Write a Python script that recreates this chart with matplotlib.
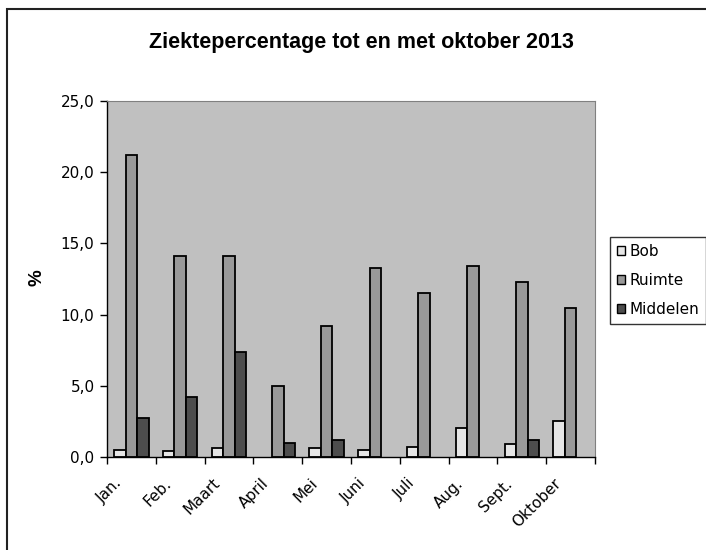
import matplotlib
matplotlib.use("Agg")
import matplotlib.pyplot as plt
import matplotlib.transforms as mtransforms
import numpy as np
from matplotlib.patches import Rectangle

months = ["Jan.", "Feb.", "Maart", "April", "Mei", "Juni", "Juli", "Aug.", "Sept.", "Oktober"]
bob = [0.5, 0.4, 0.6, 0.0, 0.6, 0.5, 0.7, 2.05, 0.9, 2.55]
ruimte = [21.2, 14.1, 14.1, 5.0, 9.2, 13.3, 11.55, 13.4, 12.3, 10.45]
middelen = [2.75, 4.2, 7.4, 1.0, 1.2, 0.0, 0.0, 0.0, 1.17, 0.0]
series_names = ["Bob", "Ruimte", "Middelen"]
yticks = [0, 5, 10, 15, 20, 25]

plt.rcParams['font.family'] = ['DejaVu Sans']

fig = plt.figure(figsize=(7.06, 5.5), dpi=100)
fig.patch.set_facecolor('white')
fig.patches.append(Rectangle((7/706, -0.1), 1.1, 1 - 9/550 + 0.1, transform=fig.transFigure,
                             fill=False, edgecolor='#222222', linewidth=1.5))

ax = fig.add_axes([107/706, 1 - 457/550, (595 - 107)/706, (457 - 101)/550])
ax.set_facecolor('#C0C0C0')

x = np.arange(len(months))
w = 0.235
colors = ['#E6E6E6', '#999999', '#4D4D4D']
for i, (vals, c, name) in enumerate(zip([bob, ruimte, middelen], colors, series_names)):
    bars = ax.bar(x + (i - 1) * w, vals, width=w, color=c, edgecolor='black', linewidth=1.3, label=name)
    for b, v in zip(bars, vals):
        if v == 0:
            b.set_visible(False)

ax.set_xlim(-0.5, len(months) - 0.5)
ax.set_ylim(0, 25)
ax.set_yticks(yticks)
ax.set_yticklabels([f"{v:.1f}".replace('.', ',') for v in yticks], fontsize=11)
ax.set_xticks(x)
ax.set_xticklabels(months, rotation=45, ha='right', rotation_mode='anchor', fontsize=11)
ax.tick_params(axis='x', length=0, pad=7)
offset = mtransforms.ScaledTranslation(-17/100, -9/100, fig.dpi_scale_trans)
for lab in ax.get_xticklabels():
    lab.set_transform(lab.get_transform() + offset)
ax.set_xticks(np.arange(len(months) + 1) - 0.5, minor=True)
ax.tick_params(axis='x', which='minor', length=5, width=1, direction='out')
ax.tick_params(axis='y', length=5, width=1, direction='out', pad=4)

for s in ['top', 'right']:
    ax.spines[s].set_color('#808080')
    ax.spines[s].set_linewidth(0.8)
for s in ['left', 'bottom']:
    ax.spines[s].set_color('black')
    ax.spines[s].set_linewidth(1)

fig.text(37/706, 1 - 278/550, '%', rotation=90, ha='center', va='center',
         fontsize=13.5, fontweight='bold', family='Liberation Sans')

fig.text(361/706, 1 - 48/550, 'Ziektepercentage tot en met oktober 2013', ha='center', va='baseline',
         fontsize=15.5, fontweight='bold', family='Liberation Sans')

leg = ax.legend(loc='upper left', bbox_to_anchor=(610/706, 1 - 237/550), bbox_transform=fig.transFigure,
                fontsize=11, frameon=True, fancybox=False, edgecolor='black', handlelength=0.55,
                handleheight=0.55, handletextpad=0.3, borderpad=0.45, labelspacing=0.92, borderaxespad=0)
leg.get_frame().set_linewidth(1)
for h in leg.legend_handles:
    h.set_linewidth(1)

fig.savefig('out.png', dpi=100)
